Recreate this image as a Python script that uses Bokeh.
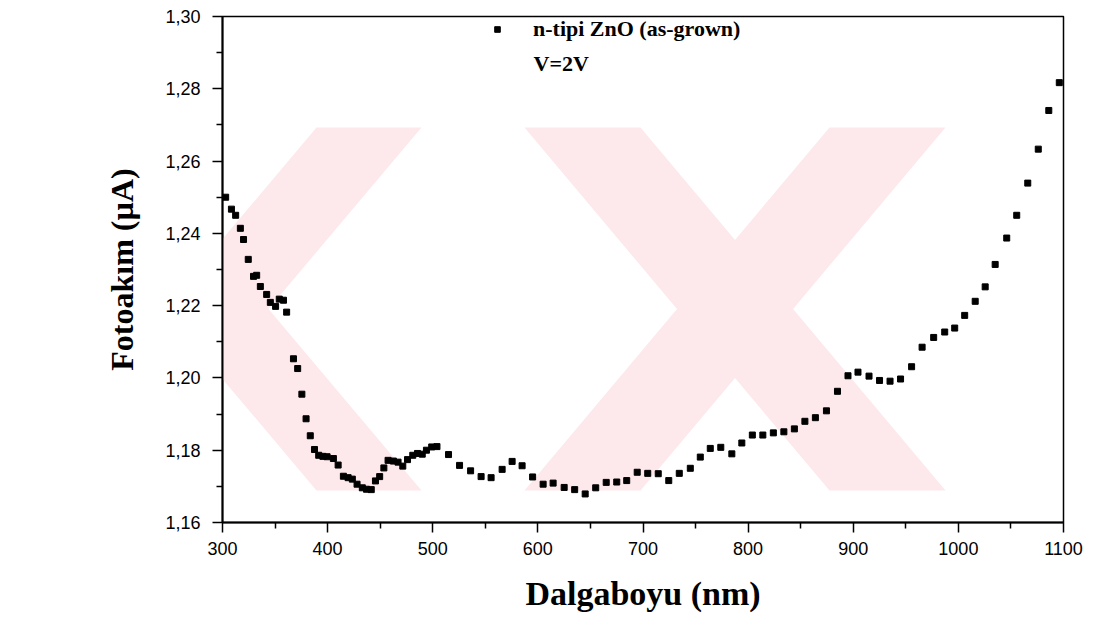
from bokeh.plotting import figure
from bokeh.models import (FixedTicker, CustomJSTickFormatter, Legend, LegendItem,
                          Label, PolyAnnotation)
from bokeh.embed import file_html
from bokeh.resources import INLINE

# ---- data ----
wavelength_nm = [303, 308.5, 312.5, 317, 320, 324.5, 329.5, 332.5, 336, 342, 345.5, 350.5,
                 354, 358, 361, 367.5, 371.5, 375.5, 379.5, 383.5, 387.5, 391.5, 395.5,
                 399.5, 405.5, 410, 415, 419.5, 423.5, 428, 433, 437, 441.5, 445.5, 449.5,
                 453.5, 457.5, 462.5, 467, 471.5, 476, 481, 485.5, 490, 494, 499, 504,
                 515, 525.5, 536, 546, 555.5, 566, 575.5, 585, 595, 605, 614.5, 625, 635,
                 645, 655, 665, 675, 684.5, 694.5, 704.5, 714.5, 724.5, 734.5, 745, 754.5,
                 764, 774, 784.5, 794, 804, 814, 824, 834, 844, 854, 864, 874.5, 885, 895,
                 904.5, 915, 925, 935, 945, 955.5, 965.5, 976.5, 987, 996.5, 1006, 1016,
                 1025.5, 1035, 1046, 1055.5, 1066, 1076, 1086, 1096]
photocurrent_uA = [1.2500, 1.2467, 1.2450, 1.2414, 1.2383, 1.2328, 1.2281, 1.2284, 1.2253,
                   1.2231, 1.2209, 1.2198, 1.2218, 1.2215, 1.2182, 1.2053, 1.2026, 1.1955,
                   1.1887, 1.1840, 1.1802, 1.1786, 1.1783, 1.1782, 1.1777, 1.1759, 1.1728,
                   1.1724, 1.1720, 1.1706, 1.1696, 1.1692, 1.1691, 1.1715, 1.1727, 1.1751,
                   1.1772, 1.1770, 1.1767, 1.1756, 1.1774, 1.1786, 1.1791, 1.1789, 1.1800,
                   1.1809, 1.1810, 1.1788, 1.1758, 1.1743, 1.1727, 1.1724, 1.1747, 1.1769,
                   1.1757, 1.1726, 1.1706, 1.1709, 1.1697, 1.1691, 1.1679, 1.1696, 1.1711,
                   1.1712, 1.1716, 1.1739, 1.1736, 1.1735, 1.1716, 1.1736, 1.1750, 1.1781,
                   1.1805, 1.1808, 1.1790, 1.1820, 1.1842, 1.1842, 1.1848, 1.1851, 1.1859,
                   1.1880, 1.1890, 1.1909, 1.1963, 1.2006, 1.2016, 1.2005, 1.1993, 1.1991,
                   1.1997, 1.2031, 1.2085, 1.2112, 1.2127, 1.2138, 1.2173, 1.2212, 1.2252,
                   1.2314, 1.2387, 1.2450, 1.2539, 1.2633, 1.2740, 1.2817]

x_major_ticks = [300, 400, 500, 600, 700, 800, 900, 1000, 1100]
x_minor_ticks = [350, 450, 550, 650, 750, 850, 950, 1050]
y_major_ticks = [1.16, 1.18, 1.20, 1.22, 1.24, 1.26, 1.28, 1.30]
y_minor_ticks = [1.17, 1.19, 1.21, 1.23, 1.25, 1.27, 1.29]

series_label = "n-tipi ZnO (as-grown)"
note_text = "V=2V"
x_title = "Dalgaboyu (nm)"
y_title = "Fotoakım (µA)"

# ---- layout ----
W, H = 1097, 619
FL, FR, FT, FB = 222, 34, 16, 97
X0, X1, Y0, Y1 = 300, 1100, 1.16, 1.30
fw, fh = W - FL - FR, H - FT - FB

def dx(px):
    return X0 + (px - FL) * (X1 - X0) / fw

def dy(py):
    return Y0 + (H - FB - py) * (Y1 - Y0) / fh

p = figure(width=W, height=H, x_range=(X0, X1), y_range=(Y0, Y1),
           output_backend="svg", toolbar_location=None,
           min_border_left=FL, min_border_right=FR, min_border_top=FT, min_border_bottom=FB)
p.grid.visible = False
p.background_fill_color = "white"
p.border_fill_color = "white"
p.outline_line_color = "black"
p.outline_line_width = 1.5

# faint watermark (two X shapes) behind the data
wm_top, wm_bot = 127, 490
arms = [((10, 115), (316, 421)), ((316, 421), (10, 115)),
        ((524, 640), (829, 945)), ((829, 945), (524, 640))]
for (ta, tb), (ba, bb) in arms:
    xs = [dx(ta), dx(tb), dx(bb), dx(ba)]
    ys = [dy(wm_top), dy(wm_top), dy(wm_bot), dy(wm_bot)]
    p.add_layout(PolyAnnotation(xs=xs, ys=ys, fill_color="#fde8ec", fill_alpha=1.0,
                                line_alpha=0, level="underlay"))

r = p.scatter(wavelength_nm, photocurrent_uA, marker="square", size=6,
              fill_color="black", line_color="black")

# axes
for ax in (p.xaxis[0], p.yaxis[0]):
    ax.axis_line_width = 2
    ax.axis_line_color = "black"
    ax.major_tick_line_color = "black"
    ax.minor_tick_line_color = "black"
    ax.major_tick_line_width = 1.5
    ax.minor_tick_line_width = 1.5
    ax.major_tick_in = 0
    ax.major_tick_out = 10
    ax.minor_tick_in = 0
    ax.minor_tick_out = 6
    ax.major_label_text_font = "Liberation Sans"
    ax.major_label_text_font_size = "18px"
    ax.major_label_text_color = "black"
    ax.axis_label_text_font = "Liberation Serif"
    ax.axis_label_text_font_style = "bold"
    ax.axis_label_text_color = "black"

p.xaxis[0].ticker = FixedTicker(ticks=x_major_ticks, minor_ticks=x_minor_ticks)
p.yaxis[0].ticker = FixedTicker(ticks=y_major_ticks, minor_ticks=y_minor_ticks)
p.yaxis[0].formatter = CustomJSTickFormatter(code="return tick.toFixed(2).replace('.', ',')")
p.xaxis[0].axis_label = x_title
p.yaxis[0].axis_label = y_title
p.xaxis[0].axis_label_text_font_size = "34px"
p.yaxis[0].axis_label_text_font_size = "32px"
p.xaxis[0].major_label_standoff = 9
p.yaxis[0].major_label_standoff = 12
p.xaxis[0].axis_label_standoff = 17
p.yaxis[0].axis_label_standoff = 22

legend = Legend(items=[LegendItem(label=series_label, renderers=[r])],
                location=(268, 480), padding=0, margin=0, spacing=0,
                glyph_width=14, glyph_height=24, label_height=24, label_standoff=29,
                border_line_alpha=0, background_fill_alpha=0,
                label_text_font="Liberation Serif", label_text_font_style="bold",
                label_text_font_size="22px", label_text_color="black")
p.add_layout(legend)

p.add_layout(Label(x=dx(533), y=dy(63), text=note_text, text_font="Liberation Serif",
                   text_font_style="bold", text_font_size="22px", text_baseline="middle",
                   text_color="black"))

open("out.html", "w").write(file_html(p, INLINE))
